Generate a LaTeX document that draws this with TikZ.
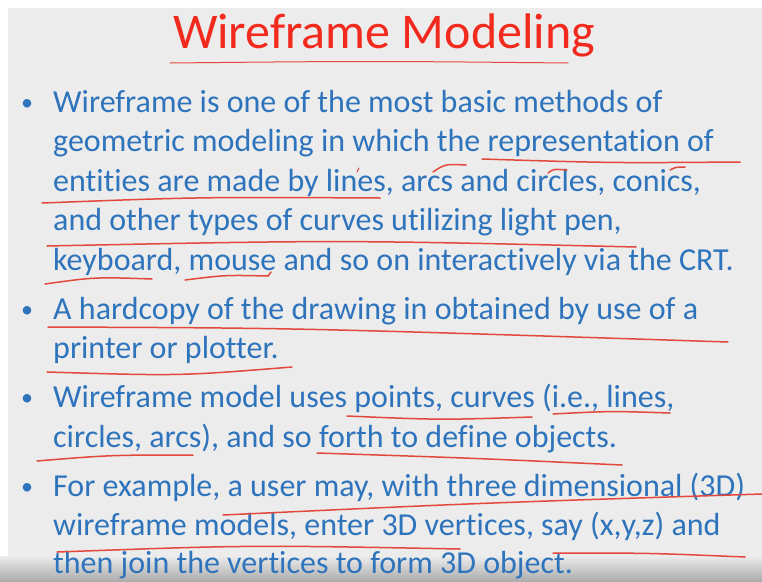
\documentclass[tikz,border=0pt]{standalone}
\usepackage{fontspec}
\setmainfont{Carlito}[Ligatures=NoCommon]
\definecolor{slidebg}{RGB}{236,236,236}
\definecolor{titlered}{RGB}{242,42,30}
\definecolor{textblue}{RGB}{46,116,188}
\definecolor{penred}{RGB}{226,72,60}
\begin{document}
\begin{tikzpicture}[x=1pt,y=-1pt,
    bodytext/.style={anchor=base west,inner sep=0pt,text=textblue,font=\fontsize{32}{38}\selectfont},
    bulletdot/.style={anchor=base,inner sep=0pt,text=textblue,font=\fontsize{24}{30}\selectfont},
    inkline/.style={draw=penred,line width=1.5pt,line cap=round}]
            \useasboundingbox (0,0) rectangle (762,581);
            \fill[white] (0,0) rectangle (762,581);
            \fill[slidebg] (8,8) rectangle (762,581);
            \shade[top color=slidebg,bottom color=gray!65] (0,556) rectangle (762,581);
            % title
            \node[anchor=base,inner sep=0pt,text=titlered,font=\fontsize{50}{60}\selectfont] (title) at (384,48) {Wireframe Modeling};
            % bullets
            \node[bulletdot] (b1) at (27,110) {•};
            \node[bulletdot] (b2) at (27,317) {•};
            \node[bulletdot] (b3) at (27,405.5) {•};
            \node[bulletdot] (b4) at (27,494) {•};
            % text lines
            \node[bodytext] (l1) at (53,112) {Wireframe is one of the most basic methods of};
            \node[bodytext] (l2) at (53,151.5) {geometric modeling in which the representation of};
            \node[bodytext] (l3) at (53,191) {entities are made by lines, arcs and circles, conics,};
            \node[bodytext] (l4) at (53,230.5) {and other types of curves utilizing light pen,};
            \node[bodytext] (l5) at (53,270) {keyboard, mouse and so on interactively via the CRT.};
            \node[bodytext] (l6) at (53,319) {A hardcopy of the drawing in obtained by use of a};
            \node[bodytext] (l7) at (53,358.5) {printer or plotter.};
            \node[bodytext] (l8) at (53,407.5) {Wireframe model uses points, curves (i.e., lines,};
            \node[bodytext] (l9) at (53,447) {circles, arcs), and so forth to define objects.};
            \node[bodytext] (l10) at (53,496) {For example, a user may, with three dimensional (3D)};
            \node[bodytext] (l11) at (53,535.5) {wireframe models, enter 3D vertices, say (x,y,z) and};
            \node[bodytext] (l12) at (53,573) {then join the vertices to form 3D object.};
            % pen marks
            \draw[inkline,line width=1pt] (170,63) .. controls (370,61) .. (568,63);
            \draw[inkline] (482,159) .. controls (610,163) .. (740,162);
            \draw[inkline] (433,172) .. controls (445,164) .. (466,165);
            \draw[inkline] (548,173) .. controls (553,169) .. (567,170);
            \draw[inkline] (670,170) .. controls (676,167) .. (685,167);
            \draw[inkline,line width=1pt] (357,172) -- (359,168);
            \draw[inkline] (42,203) .. controls (200,197) .. (380,198);
            \draw[inkline] (47,246) .. controls (340,240) .. (636,247);
            \draw[inkline] (45,284) .. controls (95,277) .. (152,279);
            \draw[inkline] (185,280) .. controls (225,275) .. (268,276) -- (271,272);
            \draw[inkline] (48,327) .. controls (300,328) .. (728,342);
            \draw[inkline] (47,372) .. controls (180,376) .. (292,367);
            \draw[inkline] (347,416) .. controls (440,420) .. (532,417);
            \draw[inkline] (553,414) .. controls (610,411) .. (670,413);
            \draw[inkline] (37,461) .. controls (110,455) .. (193,455);
            \draw[inkline] (317,453) .. controls (470,458) .. (622,465);
            \draw[inkline] (223,515) .. controls (480,503) .. (762,494);
            \draw[inkline] (57,552) .. controls (250,545) .. (460,549);
            \draw[inkline] (553,553) .. controls (650,553) .. (745,557);
        \end{tikzpicture}
\end{document}
